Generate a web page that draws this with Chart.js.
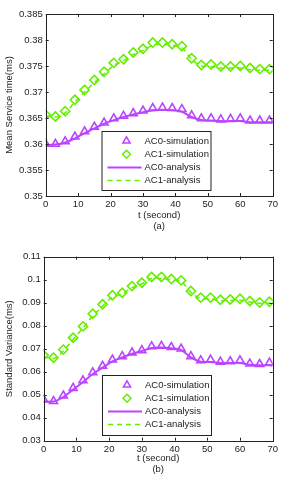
<!DOCTYPE html>
<html>
<head>
<meta charset="utf-8">
<script src="https://cdn.jsdelivr.net/npm/chart.js@4"></script>
<style>
    html, body { margin: 0; padding: 0; background: #fff; }
    .fig { width: 300px; height: 483px; }
    .fig div { position: relative; width: 300px; }
</style>
</head>
<body>
<div class="fig">
    <div style="height:241px"><canvas id="chartA"></canvas></div>
    <div style="height:242px"><canvas id="chartB"></canvas></div>
</div>
<script>
// Eixo de tempo (s) e ticks
const tSim = [0, 3, 6, 9, 12, 15, 18, 21, 24, 27, 30, 33, 36, 39, 42, 45, 48, 51, 54, 57, 60, 63, 66, 69];
const tAna = [0, 3, 6, 9, 12, 15, 18, 21, 24, 27, 30, 33, 36, 39, 42, 45, 48, 51, 54, 57, 60, 63, 66, 69, 70];
const xTicks = [0, 10, 20, 30, 40, 50, 60, 70];

// (a) Mean Service time
const meanAC0Sim = [0.3600, 0.3600, 0.3605, 0.3614, 0.3624, 0.3633, 0.3641, 0.3649, 0.3654, 0.3659, 0.3664, 0.3669,
    0.3670, 0.3669, 0.3667, 0.3655, 0.3649, 0.3649, 0.3647, 0.3648, 0.3649, 0.3645, 0.3645, 0.3645];
const meanAC1Sim = [0.3656, 0.3653, 0.3663, 0.3685, 0.3704, 0.3723, 0.3739, 0.3756, 0.3763, 0.3776, 0.3783, 0.3795,
    0.3795, 0.3792, 0.3788, 0.3765, 0.3752, 0.3753, 0.3749, 0.3749, 0.3750, 0.3746, 0.3744, 0.3744];
const meanAC0Ana = [0.3598, 0.3599, 0.3603, 0.3611, 0.3621, 0.3630, 0.3639, 0.3646, 0.3652, 0.3657, 0.3661, 0.3665,
    0.3666, 0.3665, 0.3662, 0.3652, 0.3646, 0.3645, 0.3644, 0.3644, 0.3644, 0.3642, 0.3642, 0.3642, 0.3642];
const meanAC1Ana = [0.3654, 0.3652, 0.3660, 0.3681, 0.3700, 0.3718, 0.3735, 0.3751, 0.3760, 0.3772, 0.3780, 0.3790,
    0.3792, 0.3790, 0.3785, 0.3763, 0.3750, 0.3749, 0.3746, 0.3746, 0.3746, 0.3743, 0.3742, 0.3742, 0.3742];
const meanTicks = [0.35, 0.355, 0.36, 0.365, 0.37, 0.375, 0.38, 0.385];

// (b) Standard Variance
const stdAC0Sim = [0.0478, 0.0472, 0.0496, 0.0529, 0.0562, 0.0597, 0.0625, 0.0652, 0.0667, 0.0683, 0.0693, 0.0710,
    0.0712, 0.0707, 0.0700, 0.0667, 0.0649, 0.0652, 0.0643, 0.0645, 0.0649, 0.0635, 0.0633, 0.0639];
const stdAC1Sim = [0.0671, 0.0661, 0.0696, 0.0748, 0.0797, 0.0852, 0.0893, 0.0932, 0.0943, 0.0972, 0.0987, 0.1012,
    0.1012, 0.1003, 0.0997, 0.0951, 0.0922, 0.0922, 0.0913, 0.0914, 0.0917, 0.0907, 0.0901, 0.0904];
const stdAC0Ana = [0.0472, 0.0470, 0.0490, 0.0522, 0.0555, 0.0590, 0.0618, 0.0645, 0.0662, 0.0678, 0.0690, 0.0703,
    0.0705, 0.0702, 0.0695, 0.0662, 0.0643, 0.0642, 0.0638, 0.0638, 0.0638, 0.0630, 0.0628, 0.0628, 0.0627];
const stdAC1Ana = [0.0665, 0.0657, 0.0690, 0.0740, 0.0790, 0.0843, 0.0885, 0.0925, 0.0938, 0.0965, 0.0982, 0.1005,
    0.1005, 0.1000, 0.0992, 0.0945, 0.0918, 0.0917, 0.0909, 0.0910, 0.0911, 0.0903, 0.0898, 0.0898, 0.0897];
const stdTicks = [0.03, 0.04, 0.05, 0.06, 0.07, 0.08, 0.09, 0.1, 0.11];

const seriesNames = ['AC0-simulation', 'AC1-simulation', 'AC0-analysis', 'AC1-analysis'];

const PURPLE = '#bb44ff';
const GREEN = '#66ee00';
const FONT = { family: '"Liberation Sans", Arial, sans-serif', size: 9.5, lineHeight: 1.15 };

const pts = (xs, ys) => xs.map((x, i) => ({ x: x, y: ys[i] }));

// Desenha a moldura estilo MATLAB com ticks para dentro
const boxPlugin = {
    id: 'box',
    afterDatasetsDraw(chart) {
        const { ctx, chartArea: a, scales } = chart;
        const len = 3;
        ctx.save();
        ctx.strokeStyle = '#222';
        ctx.lineWidth = 1;
        ctx.beginPath();
        scales.x.ticks.forEach(t => {
            const px = Math.round(scales.x.getPixelForValue(t.value)) + 0.5;
            ctx.moveTo(px, a.bottom); ctx.lineTo(px, a.bottom - len);
            ctx.moveTo(px, a.top); ctx.lineTo(px, a.top + len);
        });
        scales.y.ticks.forEach(t => {
            const py = Math.round(scales.y.getPixelForValue(t.value)) + 0.5;
            ctx.moveTo(a.left, py); ctx.lineTo(a.left + len, py);
            ctx.moveTo(a.right, py); ctx.lineTo(a.right - len, py);
        });
        ctx.stroke();
        ctx.strokeRect(Math.round(a.left) + 0.5, Math.round(a.top) + 0.5,
            Math.round(a.right - a.left), Math.round(a.bottom - a.top));
        ctx.restore();
    }
};

// Legenda dentro do gráfico
const innerLegend = {
    id: 'innerLegend',
    afterDraw(chart, args, opts) {
        const { ctx } = chart;
        const b = opts.box;
        ctx.save();
        ctx.fillStyle = '#fff';
        ctx.fillRect(b.x, b.y, b.w, b.h);
        ctx.strokeStyle = '#222';
        ctx.lineWidth = 1;
        ctx.strokeRect(b.x + 0.5, b.y + 0.5, b.w, b.h);
        ctx.font = FONT.size + 'px ' + FONT.family;
        ctx.textBaseline = 'middle';
        chart.data.datasets.forEach((ds, i) => {
            const y = b.y + 10 + i * 13.2;
            const mx = b.x + 25;
            ctx.strokeStyle = ds.borderColor;
            ctx.lineWidth = ds.showLine ? ds.borderWidth : 1.5;
            ctx.beginPath();
            if (ds.showLine) {
                ctx.setLineDash(ds.borderDash || []);
                ctx.moveTo(b.x + 6, y); ctx.lineTo(b.x + 40, y);
            } else if (ds.pointStyle === 'triangle') {
                const r = 4.2;
                ctx.moveTo(mx, y - r);
                ctx.lineTo(mx + r * 0.866, y + r / 2);
                ctx.lineTo(mx - r * 0.866, y + r / 2);
                ctx.closePath();
            } else {
                const r = 4;
                ctx.moveTo(mx, y - r); ctx.lineTo(mx + r, y);
                ctx.lineTo(mx, y + r); ctx.lineTo(mx - r, y);
                ctx.closePath();
            }
            ctx.stroke();
            ctx.setLineDash([]);
            ctx.fillStyle = '#222';
            ctx.fillText(ds.label, b.x + 43, y);
        });
        ctx.restore();
    }
};

function makeChart(id, sims, anas, yTicks, yTitle, panel, geo) {
    const ctx = document.getElementById(id);
    new Chart(ctx, {
        type: 'scatter',
        data: {
            datasets: [
                { label: seriesNames[0], data: pts(tSim, sims[0]), pointStyle: 'triangle', pointRadius: 4.6,
                  borderColor: PURPLE, backgroundColor: 'transparent', pointBorderWidth: 1.6, showLine: false },
                { label: seriesNames[1], data: pts(tSim, sims[1]), pointStyle: 'rectRot', pointRadius: 4.6,
                  borderColor: GREEN, backgroundColor: 'transparent', pointBorderWidth: 1.6, showLine: false },
                { label: seriesNames[2], data: pts(tAna, anas[0]), showLine: true, pointRadius: 0,
                  borderColor: PURPLE, borderWidth: 2, tension: 0.3 },
                { label: seriesNames[3], data: pts(tAna, anas[1]), showLine: true, pointRadius: 0,
                  borderColor: GREEN, borderWidth: 1.5, borderDash: [5, 4], tension: 0.3 }
            ]
        },
        options: {
            responsive: true,
            maintainAspectRatio: false,
            animation: false,
            layout: { padding: { top: geo.top, right: geo.right, left: 0, bottom: 0 } },
            plugins: {
                legend: { display: false },
                tooltip: { enabled: false },
                innerLegend: { box: geo.legend }
            },
            scales: {
                x: {
                    type: 'linear', min: 0, max: 70,
                    afterBuildTicks: s => { s.ticks = xTicks.map(v => ({ value: v })); },
                    afterFit: s => { s.height = geo.xHeight; },
                    grid: { display: false, drawTicks: false },
                    border: { display: false },
                    ticks: { color: '#222', font: FONT, padding: 3, maxRotation: 0, callback: v => String(v) },
                    title: { display: true, text: ['t (second)', panel], color: '#222', font: FONT,
                             padding: { top: 0, bottom: geo.titlePad } }
                },
                y: {
                    min: yTicks[0], max: yTicks[yTicks.length - 1],
                    afterBuildTicks: s => { s.ticks = yTicks.map(v => ({ value: v })); },
                    afterFit: s => { s.width = geo.yWidth; },
                    grid: { display: false, drawTicks: false },
                    border: { display: false },
                    ticks: { color: '#222', font: FONT, padding: 3, callback: v => String(v) },
                    title: { display: true, text: yTitle, color: '#222', font: FONT, padding: { top: 4, bottom: 2 } }
                }
            }
        },
        plugins: [boxPlugin, innerLegend]
    });
}

makeChart('chartA', [meanAC0Sim, meanAC1Sim], [meanAC0Ana, meanAC1Ana], meanTicks,
    'Mean Service time(ms)', '(a)',
    { top: 14, right: 27.3, yWidth: 45.7, xHeight: 45, titlePad: 9.5,
      legend: { x: 101.5, y: 131, w: 109, h: 59 } });

makeChart('chartB', [stdAC0Sim, stdAC1Sim], [stdAC0Ana, stdAC1Ana], stdTicks,
    'Standard Variance(ms)', '(b)',
    { top: 15.7, right: 27.3, yWidth: 43.7, xHeight: 42.3, titlePad: 8.5,
      legend: { x: 102, y: 134, w: 109, h: 60 } });
</script>
</body>
</html>
